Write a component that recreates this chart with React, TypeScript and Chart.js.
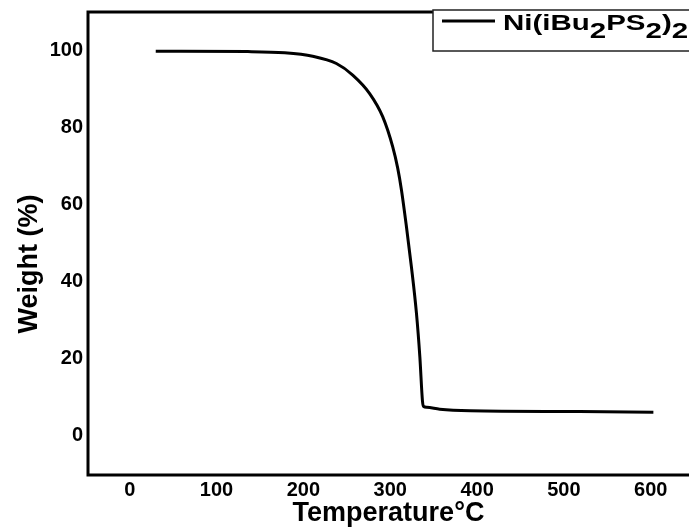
import React, { useEffect, useRef } from "react";
import { Chart, registerables } from "chart.js";

Chart.register(...registerables);

// ---- data ----
const temperatures = [30, 136, 178.5, 210.7, 238, 256.8, 276.3, 291.3, 302.8, 308.6, 313, 318.7, 324.4, 330.2, 334.1, 337.1, 338.5, 342, 357, 392, 518, 603];
const weights = [99.8, 99.7, 99.4, 98.5, 96.6, 93.6, 88.8, 82.8, 75.0, 69.4, 63.6, 54.1, 43.7, 31.6, 20.3, 8.9, 7.4, 7.2, 6.7, 6.3, 6.1, 5.9];
const xTicks = [0, 100, 200, 300, 400, 500, 600];
const yTicks = [0, 20, 40, 60, 80, 100];
const seriesLabel = "Ni(iBu₂PS₂)₂";
const xTitle = "Temperature°C";
const yTitle = "Weight (%)";

const FONT = "'Liberation Sans', Arial, sans-serif";

const framePlugin = {
  id: "frame",
  afterDatasetsDraw(chart: any) {
    const { ctx, chartArea } = chart;
    const { left, right, top, bottom } = chartArea;
    ctx.save();
    ctx.strokeStyle = "#000";
    ctx.lineWidth = 3;
    ctx.beginPath();
    ctx.moveTo(right + 2, top);
    ctx.lineTo(left, top);
    ctx.lineTo(left, bottom);
    ctx.lineTo(right + 2, bottom);
    ctx.stroke();

    // y title
    ctx.fillStyle = "#000";
    ctx.font = `bold 27px ${FONT}`;
    ctx.textAlign = "center";
    ctx.textBaseline = "middle";
    ctx.translate(30, 264);
    ctx.rotate(-Math.PI / 2);
    ctx.fillText(yTitle, 0, 0);
    ctx.restore();
  },
};

const legendPlugin = {
  id: "customLegend",
  afterDraw(chart: any) {
    const { ctx } = chart;
    const label: string = chart.data.datasets[0].label;
    ctx.save();
    ctx.fillStyle = "#fff";
    ctx.fillRect(433, 10, 260, 41);
    ctx.strokeStyle = "#222";
    ctx.lineWidth = 1.5;
    ctx.strokeRect(433, 10, 260, 41);
    // sample line
    ctx.strokeStyle = "#000";
    ctx.lineWidth = 3;
    ctx.beginPath();
    ctx.moveTo(442, 21);
    ctx.lineTo(495, 21);
    ctx.stroke();
    // text with subscripts
    ctx.fillStyle = "#000";
    ctx.font = `bold 22px ${FONT}`;
    ctx.textAlign = "left";
    ctx.textBaseline = "alphabetic";
    const subs: Record<string, string> = { "₀": "0", "₁": "1", "₂": "2", "₃": "3", "₄": "4" };
    ctx.translate(503, 30);
    ctx.scale(1.34, 1);
    let x = 0;
    for (const ch of label) {
      if (subs[ch]) {
        ctx.fillText(subs[ch], x, 8);
        x += ctx.measureText(subs[ch]).width;
      } else {
        ctx.fillText(ch, x, 0);
        x += ctx.measureText(ch).width;
      }
    }
    ctx.restore();
  },
};

export default function App() {
  const ref = useRef<HTMLCanvasElement | null>(null);
  useEffect(() => {
    if (!ref.current) return;
    const chart = new Chart(ref.current, {
      type: "line",
      data: {
        datasets: [
          {
            label: seriesLabel,
            data: temperatures.map((t, i) => ({ x: t, y: weights[i] })),
            borderColor: "#000",
            borderWidth: 3,
            pointRadius: 0,
            cubicInterpolationMode: "monotone",
            fill: false,
          },
        ],
      },
      options: {
        responsive: false,
        animation: false,
        layout: { padding: { top: 12, left: 0, right: 0, bottom: 0 } },
        plugins: { legend: { display: false }, tooltip: { enabled: false } },
        scales: {
          x: {
            type: "linear",
            min: -48,
            max: 644,
            grid: { display: false, drawTicks: false, tickLength: 0 },
            border: { display: false },
            afterBuildTicks: (s: any) => {
              s.ticks = xTicks.map((v) => ({ value: v }));
            },
            afterFit: (s: any) => {
              s.height = 54;
              s.paddingLeft = 0;
              s.paddingRight = 0;
            },
            ticks: {
              color: "#000",
              font: { family: FONT, size: 20, weight: "bold" },
              padding: 3,
              maxRotation: 0,
              autoSkip: false,
            },
            title: {
              display: true,
              text: xTitle,
              color: "#000",
              font: { family: FONT, size: 27, weight: "bold" },
              padding: { top: 0, bottom: -1 },
            },
          },
          y: {
            type: "linear",
            min: -10.4,
            max: 110,
            grid: { display: false, drawTicks: false, tickLength: 0 },
            border: { display: false },
            afterBuildTicks: (s: any) => {
              s.ticks = yTicks.map((v) => ({ value: v }));
            },
            afterFit: (s: any) => {
              s.width = 88;
              s.paddingTop = 0;
              s.paddingBottom = 0;
            },
            ticks: {
              color: "#000",
              font: { family: FONT, size: 20, weight: "bold" },
              padding: 5,
              autoSkip: false,
            },
          },
        },
      },
      plugins: [framePlugin, legendPlugin],
    } as any);
    return () => chart.destroy();
  }, []);
  return (
    <div style={{ position: "absolute", left: 0, top: 0, width: 689, height: 529, background: "#fff" }}>
      <canvas ref={ref} width={689} height={529} style={{ display: "block" }} />
    </div>
  );
}
